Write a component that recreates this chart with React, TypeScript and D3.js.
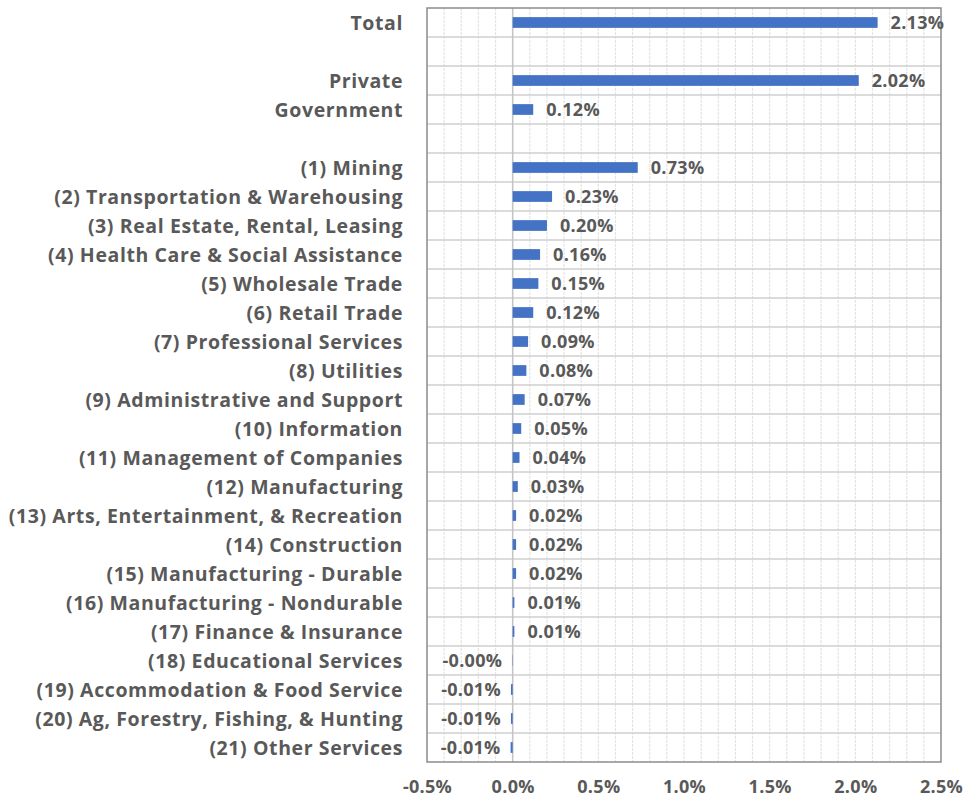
import React, { useEffect, useRef } from "react";
import { select, scaleBand, scaleLinear, axisBottom, range } from "d3";

const categories: string[] = [
  "Total",
  "",
  "Private",
  "Government",
  " ",
  "(1) Mining",
  "(2) Transportation & Warehousing",
  "(3) Real Estate, Rental, Leasing",
  "(4) Health Care & Social Assistance",
  "(5) Wholesale Trade",
  "(6) Retail Trade",
  "(7) Professional Services",
  "(8) Utilities",
  "(9) Administrative and Support",
  "(10) Information",
  "(11) Management of Companies",
  "(12) Manufacturing",
  "(13) Arts, Entertainment, & Recreation",
  "(14) Construction",
  "(15) Manufacturing - Durable",
  "(16) Manufacturing - Nondurable",
  "(17) Finance & Insurance",
  "(18) Educational Services",
  "(19) Accommodation & Food Service",
  "(20) Ag, Forestry, Fishing, & Hunting",
  "(21) Other Services",
];

// percent values; null = spacer row
const values: (number | null)[] = [
  2.13, null, 2.02, 0.12, null,
  0.73, 0.23, 0.2, 0.16, 0.15, 0.12, 0.09, 0.08, 0.07, 0.05, 0.04,
  0.03, 0.02, 0.02, 0.02, 0.01, 0.01, -0.002, -0.01, -0.01, -0.012,
];

const xTicks: number[] = [-0.5, 0, 0.5, 1, 1.5, 2, 2.5];

const WIDTH = 975;
const HEIGHT = 806;
const margin = { top: 8, right: 34, bottom: 44, left: 427 };
const FONT = "'Open Sans', sans-serif";
const TEXT = "#595959";

const App: React.FC = () => {
  const svgRef = useRef<SVGSVGElement>(null);

  useEffect(() => {
    const svg = select(svgRef.current);
    svg.selectAll("*").remove();

    const x = scaleLinear()
      .domain([-0.5, 2.5])
      .range([margin.left, WIDTH - margin.right]);
    const y = scaleBand()
      .domain(categories)
      .range([margin.top, HEIGHT - margin.bottom])
      .paddingInner(0.63)
      .paddingOuter(0.315);
    const step = y.step();
    const bandTop = (c: string) => (y(c) as number) - (step - y.bandwidth()) / 2;

    // minor vertical gridlines every 0.1%
    svg
      .append("g")
      .selectAll("line")
      .data(range(-4, 25).map((d) => d / 10))
      .join("line")
      .attr("x1", (d) => x(d))
      .attr("x2", (d) => x(d))
      .attr("y1", margin.top)
      .attr("y2", HEIGHT - margin.bottom)
      .attr("stroke", "#e4e4e4")
      .attr("stroke-width", 1.2)
      .attr("stroke-dasharray", "3,1");

    // horizontal gridlines between rows
    svg
      .append("g")
      .selectAll("line")
      .data(categories.slice(1))
      .join("line")
      .attr("x1", margin.left)
      .attr("x2", WIDTH - margin.right)
      .attr("y1", (d) => bandTop(d))
      .attr("y2", (d) => bandTop(d))
      .attr("stroke", "#cfcfcf")
      .attr("stroke-width", 1.5);

    // zero line
    svg
      .append("line")
      .attr("x1", x(0))
      .attr("x2", x(0))
      .attr("y1", margin.top)
      .attr("y2", HEIGHT - margin.bottom)
      .attr("stroke", "#c4c4c4")
      .attr("stroke-width", 1.5);

    // plot border
    svg
      .append("rect")
      .attr("x", margin.left)
      .attr("y", margin.top)
      .attr("width", WIDTH - margin.right - margin.left)
      .attr("height", HEIGHT - margin.bottom - margin.top)
      .attr("fill", "none")
      .attr("stroke", "#8c8c8c")
      .attr("stroke-width", 1.5);

    const rows = categories
      .map((c, i) => ({ c, v: values[i] }))
      .filter((d) => d.v !== null) as { c: string; v: number }[];

    svg
      .append("g")
      .selectAll("rect")
      .data(rows)
      .join("rect")
      .attr("x", (d) => Math.min(x(0), x(d.v)))
      .attr("width", (d) => Math.abs(x(d.v) - x(0)))
      .attr("y", (d) => y(d.c) as number)
      .attr("height", y.bandwidth())
      .attr("fill", "#4472C4");

    // value labels
    svg
      .append("g")
      .selectAll("text")
      .data(rows)
      .join("text")
      .attr("x", (d) => (d.v < 0 ? x(d.v) - 10 : x(d.v) + 13))
      .attr("y", (d) => (y(d.c) as number) + y.bandwidth() / 2)
      .attr("dy", "0.36em")
      .attr("text-anchor", (d) => (d.v < 0 ? "end" : "start"))
      .attr("font-family", FONT)
      .attr("font-weight", "bold")
      .attr("font-size", 18)
      .attr("letter-spacing", 0.3)
      .attr("fill", TEXT)
      .text((d) => `${d.v < 0 ? "-" : ""}${Math.abs(d.v).toFixed(2)}%`);

    // category labels
    svg
      .append("g")
      .selectAll("text")
      .data(categories.filter((c) => c.trim() !== ""))
      .join("text")
      .attr("x", 403)
      .attr("y", (d) => (y(d) as number) + y.bandwidth() / 2)
      .attr("dy", "0.36em")
      .attr("text-anchor", "end")
      .attr("font-family", FONT)
      .attr("font-weight", "bold")
      .attr("font-size", 19.5)
      .attr("letter-spacing", 0.6)
      .attr("fill", TEXT)
      .text((d) => d);

    // x axis
    const axis = svg
      .append("g")
      .attr("transform", `translate(0,${HEIGHT - margin.bottom})`)
      .call(
        axisBottom(x)
          .tickValues(xTicks)
          .tickSize(0)
          .tickPadding(18)
          .tickFormat((d) => `${(+d).toFixed(1)}%`)
      );
    axis.select(".domain").remove();
    axis
      .selectAll("text")
      .attr("font-family", FONT)
      .attr("font-weight", "bold")
      .attr("font-size", 18)
      .attr("letter-spacing", 0.3)
      .attr("fill", TEXT);
  }, []);

  return (
    <svg
      ref={svgRef}
      width={WIDTH}
      height={HEIGHT}
      style={{ position: "absolute", left: 0, top: 0, background: "white" }}
    />
  );
};

export default App;
